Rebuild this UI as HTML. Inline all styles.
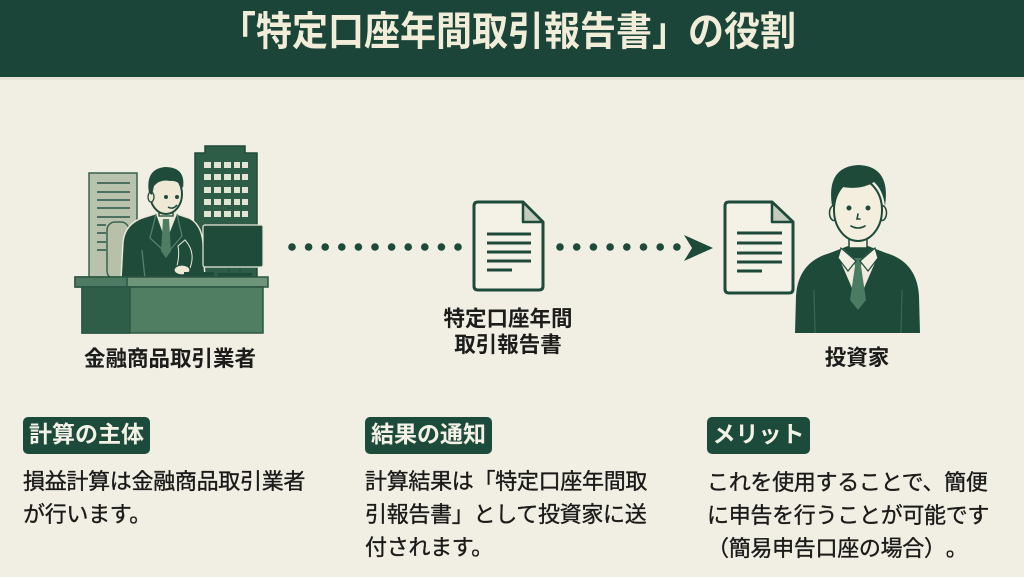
<!DOCTYPE html>
<html lang="ja">
<head>
<meta charset="utf-8">
<style>
  html,body{margin:0;padding:0;}
  body{width:1024px;height:577px;overflow:hidden;background:#f1eee3;position:relative;
       font-family:"Liberation Sans","Noto Sans CJK JP",sans-serif;color:#1c1c1a;text-spacing-trim:space-all;}
  .hdr{position:absolute;left:0;top:0;width:1024px;height:77px;background:#1b4538;}
  .hdr:after{content:"";position:absolute;left:0;right:0;bottom:-3px;height:3px;background:#e6e3d6;}
  .title{position:absolute;left:-4px;top:0;width:1024px;text-align:center;font-size:40px;line-height:65px;
         font-weight:bold;color:#f1edd9;transform:scaleX(0.9);transform-origin:512px 0;white-space:nowrap;}
  svg{position:absolute;left:0;top:0;}
  .lbl{position:absolute;font-size:21.5px;font-weight:bold;line-height:26px;text-align:center;white-space:nowrap;}
  .tag{position:absolute;height:37px;line-height:35px;background:#1d4b3b;border-radius:5px;color:#f4f1e6;
       font-size:23px;font-weight:bold;text-align:center;white-space:nowrap;}
  .body{position:absolute;font-size:22px;line-height:33px;letter-spacing:-0.3px;white-space:nowrap;color:#1a1a18;
        -webkit-text-stroke:0.35px #1a1a18;text-spacing-trim:space-all;}
  .cjk{font-family:"Noto Sans CJK JP",sans-serif;}
</style>
</head>
<body>
<div class="hdr"></div>
<div class="title">「特定口座年間取引報告書」の役割</div>

<svg width="1024" height="577" viewBox="0 0 1024 577" xmlns="http://www.w3.org/2000/svg">
  <!-- ===== Left scene ===== -->
  <rect x="89" y="173" width="48" height="106" fill="#b8c2ac" stroke="#3a604e" stroke-width="1.5"/>
  <g stroke="#4d7060" stroke-width="2">
    <line x1="97" y1="183" x2="130" y2="183"/>
    <line x1="97" y1="192" x2="130" y2="192"/>
    <line x1="97" y1="200" x2="130" y2="200"/>
    <line x1="97" y1="208" x2="130" y2="208"/>
    <line x1="97" y1="217" x2="130" y2="217"/>
    <line x1="97" y1="225" x2="106" y2="225"/>
    <line x1="97" y1="233" x2="106" y2="233"/>
    <line x1="97" y1="242" x2="106" y2="242"/>
    <line x1="97" y1="250" x2="106" y2="250"/>
  </g>
  <path d="M205 146 H245 V153 H257 V279 H195 V153 H205 Z" fill="#2e5d47" stroke="#1f4a39" stroke-width="1.5"/>
  <g fill="#e2e5d3">
    <rect x="204" y="162" width="7" height="6"/><rect x="214" y="162" width="7" height="6"/><rect x="224" y="162" width="7" height="6"/><rect x="234" y="162" width="6" height="6"/><rect x="242" y="162" width="6" height="6"/>
    <rect x="204" y="174" width="7" height="6"/><rect x="214" y="174" width="7" height="6"/><rect x="224" y="174" width="7" height="6"/><rect x="234" y="174" width="6" height="6"/><rect x="242" y="174" width="6" height="6"/>
    <rect x="204" y="187" width="7" height="6"/><rect x="214" y="187" width="7" height="6"/><rect x="224" y="187" width="7" height="6"/><rect x="234" y="187" width="6" height="6"/><rect x="242" y="187" width="6" height="6"/>
    <rect x="204" y="199" width="7" height="6"/><rect x="214" y="199" width="7" height="6"/><rect x="224" y="199" width="7" height="6"/><rect x="234" y="199" width="6" height="6"/><rect x="242" y="199" width="6" height="6"/>
    <rect x="204" y="211" width="7" height="6"/><rect x="214" y="211" width="7" height="6"/><rect x="224" y="211" width="7" height="6"/><rect x="234" y="211" width="6" height="6"/><rect x="242" y="211" width="6" height="6"/>
  </g>
  <rect x="107" y="222" width="22" height="57" rx="8" fill="#b7c1aa" stroke="#3a604e" stroke-width="1.5"/>
  <path d="M121 279 L123 242 Q125 223 145 217 L158 213 L174 213 L189 218 Q201 224 203 242 L205 279 Z" fill="#1f4b3b" stroke="#ebe8d9" stroke-width="1.5"/>
  <path d="M156 214 L166 242 L177 214 Z" fill="#eeeadb"/>
  <path d="M163 219 L169 219 L171 251 L166 258 L161 251 Z" fill="#4e7d62"/>
  <g stroke="#57806a" stroke-width="1.3" fill="none">
    <path d="M156 214 L150 238 L163 250"/>
    <path d="M177 214 L182 236 L170 250"/>
    <path d="M142 250 L145 279"/>
  </g>
  <path d="M185 240 Q196 252 190 268 L176 270 Q180 256 178 246 Z" fill="#1f4b3b" stroke="#ebe8d9" stroke-width="1"/>
  <ellipse cx="182" cy="270" rx="8" ry="5" fill="#efe8d4" stroke="#1f4b3b" stroke-width="1.3"/>
  <rect x="159" y="206" width="14" height="10" fill="#efe8d4" stroke="#1f4b3b" stroke-width="1.3"/>
  <ellipse cx="166" cy="194" rx="16" ry="20" fill="#efe8d4" stroke="#1f4b3b" stroke-width="2"/>
  <ellipse cx="151" cy="197" rx="3" ry="5" fill="#efe8d4" stroke="#1f4b3b" stroke-width="1.3"/>
  <path d="M149 193 Q145 169 165 167 Q186 167 183 188 Q178 180 170 181 Q160 179 154 186 L152 195 Z" fill="#1f4b3b"/>
  <circle cx="166" cy="197" r="2" fill="#1f4b3b"/>
  <circle cx="177" cy="197" r="2" fill="#1f4b3b"/>
  <path d="M168 207 Q173 210 177 205" stroke="#1f4b3b" stroke-width="1.5" fill="none"/>
  <rect x="229" y="265" width="11" height="9" fill="#2e5d47" stroke="#1f4b3b" stroke-width="1"/>
  <rect x="203" y="225" width="60" height="42" rx="2" fill="#1f4b3b" stroke="#ebe8d9" stroke-width="1.2"/>
  <rect x="218" y="273" width="34" height="4" fill="#1f4b3b"/>
  <rect x="184" y="272" width="30" height="5" fill="#1f4b3b"/>
  <rect x="75" y="277" width="193" height="10" fill="#6e9479" stroke="#2b5543" stroke-width="1.5"/>
  <rect x="75" y="277" width="52" height="10" fill="#4d7a62" stroke="#2b5543" stroke-width="1.5"/>
  <rect x="82" y="287" width="181" height="46" fill="#4f7e63" stroke="#2b5543" stroke-width="1.5"/>
  <rect x="82" y="287" width="48" height="46" fill="#2f5e48" stroke="#2b5543" stroke-width="1.5"/>

  <!-- ===== Dots & arrow ===== -->
  <g fill="#1e4a3a">
    <circle cx="292" cy="247" r="3.8"/><circle cx="308.6" cy="247" r="3.8"/><circle cx="325.2" cy="247" r="3.8"/><circle cx="341.8" cy="247" r="3.8"/>
    <circle cx="358.4" cy="247" r="3.8"/><circle cx="375" cy="247" r="3.8"/><circle cx="391.6" cy="247" r="3.8"/><circle cx="408.2" cy="247" r="3.8"/>
    <circle cx="424.8" cy="247" r="3.8"/><circle cx="441.4" cy="247" r="3.8"/><circle cx="458" cy="247" r="3.8"/>
    <circle cx="560" cy="247" r="3.8"/><circle cx="576.7" cy="247" r="3.8"/><circle cx="593.4" cy="247" r="3.8"/><circle cx="610.1" cy="247" r="3.8"/>
    <circle cx="626.8" cy="247" r="3.8"/><circle cx="643.5" cy="247" r="3.8"/><circle cx="660.2" cy="247" r="3.8"/><circle cx="676.9" cy="247" r="3.8"/>
    <polygon points="684,235 713,248 684,261 692,248"/>
  </g>

  <!-- ===== Middle document ===== -->
  <path d="M478 202 H523 L543 222 V286 Q543 290 539 290 H478 Q474 290 474 286 V206 Q474 202 478 202 Z" fill="#f4f1e7" stroke="#1e4a3a" stroke-width="3" stroke-linejoin="round"/>
  <path d="M523 202 V222 H543 Z" fill="#c3cbbc" stroke="#1e4a3a" stroke-width="2.5" stroke-linejoin="round"/>
  <g stroke="#1e4a3a" stroke-width="3">
    <line x1="487" y1="234" x2="531" y2="234"/>
    <line x1="487" y1="243" x2="531" y2="243"/>
    <line x1="487" y1="252" x2="531" y2="252"/>
    <line x1="487" y1="261" x2="531" y2="261"/>
    <line x1="487" y1="270" x2="512" y2="270"/>
  </g>

  <!-- ===== Right document ===== -->
  <path d="M729 202 H772 L793 222 V289 Q793 293 789 293 H729 Q725 293 725 289 V206 Q725 202 729 202 Z" fill="#f4f1e7" stroke="#1e4a3a" stroke-width="3" stroke-linejoin="round"/>
  <path d="M772 202 V222 H793 Z" fill="#c3cbbc" stroke="#1e4a3a" stroke-width="2.5" stroke-linejoin="round"/>
  <g stroke="#1e4a3a" stroke-width="3">
    <line x1="737" y1="233" x2="782" y2="233"/>
    <line x1="737" y1="243" x2="782" y2="243"/>
    <line x1="737" y1="253" x2="782" y2="253"/>
    <line x1="737" y1="262" x2="782" y2="262"/>
    <line x1="737" y1="271" x2="762" y2="271"/>
  </g>

  <!-- ===== Investor ===== -->
  <path d="M795 333 L796 296 Q798 262 830 253 L848 246 L868 246 L886 253 Q917 262 919 296 L920 333 Z" fill="#1e4a3a"/>
  <path d="M842 248 L858 262 L874 248 L877 258 L858 302 L839 258 Z" fill="#efeadb"/>
  <path d="M853 258 L863 258 L861 266 L866 300 L858 310 L850 300 L855 266 Z" fill="#4b7b60"/>
  <path d="M841 248 L856 261 L848 271 L838 258 Z" fill="#f3efe2" stroke="#1e4a3a" stroke-width="1.2"/>
  <path d="M875 248 L860 261 L868 271 L878 258 Z" fill="#f3efe2" stroke="#1e4a3a" stroke-width="1.2"/>
  <g stroke="#3a6652" stroke-width="1.2" fill="none">
    <path d="M814 290 L815 333"/>
    <path d="M902 290 L901 333"/>
  </g>
  <rect x="849" y="232" width="18" height="16" fill="#f3eedd" stroke="#1e4a3a" stroke-width="1.5"/>
  <ellipse cx="834" cy="213" rx="4.5" ry="7.5" fill="#f3eedd" stroke="#1e4a3a" stroke-width="1.5"/>
  <ellipse cx="882" cy="213" rx="4.5" ry="7.5" fill="#f3eedd" stroke="#1e4a3a" stroke-width="1.5"/>
  <ellipse cx="858" cy="210" rx="24" ry="31" fill="#f3eedd" stroke="#1e4a3a" stroke-width="2"/>
  <path d="M832 206 Q826 167 858 165 Q891 166 885 206 Q883 190 874 182 Q862 190 842 187 Q836 193 835 206 Z" fill="#1e4a3a"/>
  <g stroke="#1e4a3a" stroke-width="1.6" fill="none" stroke-linecap="round">
    <path d="M858 214 L857 219 L860 219"/>
    <path d="M851 226 Q858 230 865 226"/>
  </g>
  <circle cx="849" cy="208" r="2.5" fill="#1e4a3a"/>
  <circle cx="868" cy="208" r="2.5" fill="#1e4a3a"/>
</svg>

<!-- labels -->
<div class="lbl" style="left:70px;width:200px;top:346px;">金融商品取引業者</div>
<div class="lbl" style="left:408px;width:200px;top:306px;">特定口座年間<br>取引報告書</div>
<div class="lbl" style="left:757px;width:200px;top:345px;">投資家</div>

<!-- tags -->
<div class="tag" style="left:23px;top:417px;width:127px;">計算の主体</div>
<div class="tag" style="left:365px;top:417px;width:127px;">結果の通知</div>
<div class="tag" style="left:707px;top:417px;width:103px;">メリット</div>

<!-- body text -->
<div class="body" style="left:23px;top:465px;">損益計算は金融商品取引業者<br>が行います。</div>
<div class="body" style="left:365px;top:465px;">計算結果は「特定口座年間取<br>引報告書」として投資家に送<br>付されます。</div>
<div class="body cjk" style="left:707px;top:465px;">これを使用することで、簡便<br>に申告を行うことが可能です<br>（簡易申告口座の場合）。</div>
</body>
</html>
